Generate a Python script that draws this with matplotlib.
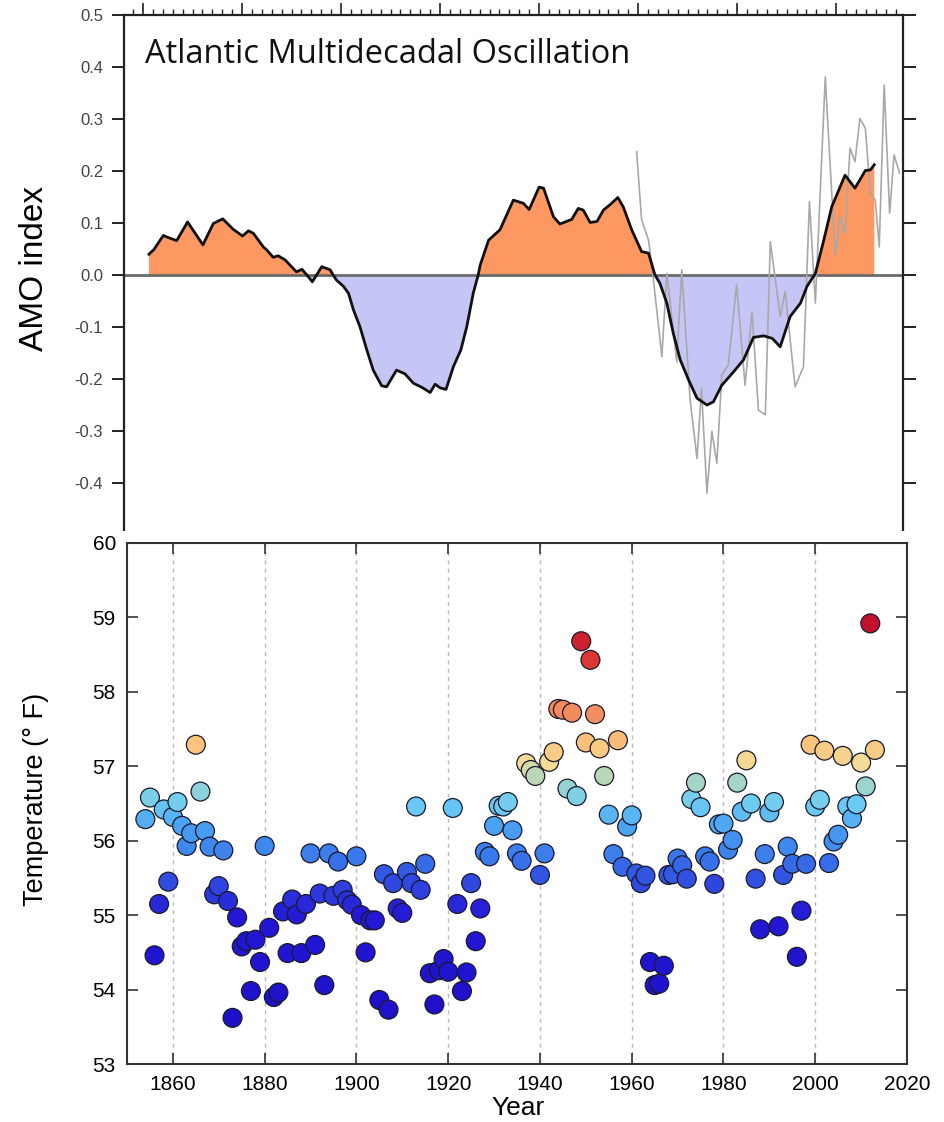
import numpy as np
import matplotlib
matplotlib.use("Agg")
import matplotlib.pyplot as plt
from matplotlib.colors import LinearSegmentedColormap, Normalize
from matplotlib.patches import Rectangle

plt.rcParams['font.family'] = ['Liberation Sans', 'DejaVu Sans']

# ---------------- AMO index (top panel) ----------------
amo_smooth_years = [1861.2, 1862.2, 1864.1, 1865.1, 1866.8, 1869.0, 1872.1, 1874.2, 1876.1, 1878.2,
                    1880.1, 1881.3, 1882.3, 1884.3, 1885.0, 1886.3, 1887.3, 1888.7, 1890.0, 1891.0,
                    1892.1, 1893.1, 1894.2, 1896.1, 1897.8, 1898.4, 1899.1, 1900.5, 1901.5, 1902.5,
                    1903.8, 1905.2, 1906.5, 1908.2, 1909.2, 1911.2, 1912.9, 1914.6, 1916.3, 1918.0,
                    1919.0, 1920.0, 1921.2, 1922.7, 1924.2, 1925.4, 1926.7, 1927.7, 1928.1, 1929.8,
                    1932.1, 1934.8, 1936.8, 1938.0, 1940.0, 1940.9, 1942.9, 1944.2, 1946.6, 1947.9,
                    1948.9, 1950.3, 1951.7, 1953.0, 1954.3, 1955.9, 1957.0, 1958.7, 1960.7, 1962.1,
                    1963.4, 1964.4, 1965.8, 1967.1, 1968.5, 1970.2, 1971.9, 1973.9, 1975.2, 1976.9,
                    1979.3, 1981.3, 1983.3, 1985.4, 1987.1, 1988.7, 1990.7, 1992.8, 1994.1, 1995.8,
                    1997.5, 1999.1, 2001.8, 2003.8, 2005.9, 2006.9, 2007.7]
amo_smooth_values = [0.040, 0.049, 0.076, 0.072, 0.066, 0.102, 0.058, 0.099, 0.108, 0.088,
                     0.075, 0.085, 0.080, 0.054, 0.048, 0.034, 0.037, 0.029, 0.016, 0.006,
                     0.011, 0.000, -0.013, 0.016, 0.010, 0.000, -0.010, -0.022, -0.035, -0.067,
                     -0.099, -0.144, -0.183, -0.213, -0.215, -0.183, -0.190, -0.208, -0.216, -0.226,
                     -0.210, -0.217, -0.220, -0.176, -0.144, -0.099, -0.035, 0.000, 0.019, 0.067,
                     0.087, 0.144, 0.138, 0.126, 0.169, 0.167, 0.112, 0.098, 0.107, 0.128,
                     0.125, 0.101, 0.103, 0.125, 0.135, 0.149, 0.131, 0.087, 0.045, 0.042,
                     0.000, -0.016, -0.054, -0.112, -0.163, -0.202, -0.237, -0.250, -0.244, -0.212,
                     -0.186, -0.163, -0.120, -0.117, -0.122, -0.138, -0.080, -0.054, -0.022, 0.003,
                     0.067, 0.131, 0.192, 0.167, 0.201, 0.202, 0.212]

amo_annual_years = [1959.7, 1960.7, 1962.1, 1963.1, 1964.8, 1965.8, 1967.8, 1968.8, 1970.5, 1971.9,
                    1972.8, 1973.9, 1974.9, 1975.9, 1976.9, 1978.2, 1979.9, 1981.6, 1983.0, 1984.3,
                    1985.7, 1986.7, 1988.7, 1989.7, 1991.7, 1993.4, 1994.6, 1995.8, 1997.8, 1999.8,
                    2000.8, 2001.8, 2002.8, 2003.8, 2004.8, 2005.9, 2006.9, 2007.9, 2008.7, 2009.7,
                    2010.8, 2011.7, 2012.8]
amo_annual_values = [0.237, 0.106, 0.067, -0.010, -0.157, 0.003, -0.167, 0.010, -0.240, -0.353,
                     -0.218, -0.420, -0.301, -0.362, -0.192, -0.173, -0.019, -0.212, -0.071, -0.260,
                     -0.269, 0.064, -0.080, -0.032, -0.215, -0.176, 0.141, -0.054, 0.381, 0.038,
                     0.112, 0.080, 0.244, 0.218, 0.301, 0.282, 0.157, 0.144, 0.054, 0.365,
                     0.119, 0.231, 0.196]

amo_yticks = [0.5, 0.4, 0.3, 0.2, 0.1, 0.0, -0.1, -0.2, -0.3, -0.4, -0.5]

# ---------------- Temperature (bottom panel) ----------------
temp_years = list(range(1854, 2014))
temp_values = [56.29, 56.58, 54.46, 55.15, 56.42, 55.45, 56.32, 56.52, 56.20, 55.93,
               56.10, 57.29, 56.66, 56.13, 55.92, 55.28, 55.39, 55.87, 55.19, 53.62,
               54.97, 54.58, 54.65, 53.98, 54.67, 54.37, 55.93, 54.83, 53.90, 53.96,
               55.05, 54.49, 55.21, 55.01, 54.49, 55.15, 55.83, 54.60, 55.29, 54.06,
               55.83, 55.26, 55.72, 55.34, 55.20, 55.14, 55.79, 55.00, 54.50, 54.93,
               54.93, 53.86, 55.55, 53.73, 55.43, 55.09, 55.03, 55.58, 55.43, 56.46,
               55.34, 55.69, 54.22, 53.80, 54.26, 54.41, 54.24, 56.44, 55.15, 53.98,
               54.23, 55.43, 54.65, 55.09, 55.85, 55.79, 56.20, 56.47, 56.46, 56.52,
               56.14, 55.83, 55.73, 57.04, 56.95, 56.87, 55.54, 55.83, 57.06, 57.19,
               57.77, 57.76, 56.70, 57.72, 56.60, 58.68, 57.32, 58.43, 57.70, 57.24,
               56.87, 56.35, 55.82, 57.35, 55.65, 56.19, 56.34, 55.56, 55.43, 55.53,
               54.37, 54.06, 54.08, 54.32, 55.54, 55.55, 55.76, 55.67, 55.49, 56.56,
               56.78, 56.45, 55.79, 55.72, 55.42, 56.22, 56.23, 55.88, 56.01, 56.78,
               56.39, 57.08, 56.50, 55.49, 54.81, 55.82, 56.38, 56.52, 54.85, 55.54,
               55.92, 55.69, 54.44, 55.06, 55.69, 57.29, 56.46, 56.55, 57.21, 55.70,
               55.99, 56.08, 57.14, 56.46, 56.30, 56.49, 57.05, 56.73, 58.92, 57.22]
temp_yticks = [53, 54, 55, 56, 57, 58, 59, 60]
year_ticks = [1860, 1880, 1900, 1920, 1940, 1960, 1980, 2000, 2020]

W, H = 945, 1122
fig = plt.figure(figsize=(W / 100, H / 100), dpi=100)


def fx(px):
    return px / W


def fy(py):
    return 1 - py / H


# ---- top axes ----
ax1 = fig.add_axes([fx(124), fy(535), fx(903) - fx(124), fy(15) - fy(535)])
ax1.set_zorder(0)
ax1.set_xlim(1856.16, 2013.5)
ax1.set_ylim(-0.5, 0.5)

xs = np.array(amo_smooth_years)
ys = np.array(amo_smooth_values)
ax1.fill_between(xs, 0, ys, where=ys >= 0, interpolate=True, color='#fd9862', lw=0, zorder=1)
ax1.fill_between(xs, 0, ys, where=ys <= 0, interpolate=True, color='#c6c6f6', lw=0, zorder=1)
ax1.axhline(0, color='#6a6a6a', lw=2.0, zorder=2)
ax1.plot(amo_annual_years, amo_annual_values, color='#a8a8a8', lw=1.2, zorder=3)
ax1.plot(xs, ys, color='#111111', lw=2.0, zorder=4)

ax1.spines['bottom'].set_visible(False)
for s in ['left', 'right', 'top']:
    ax1.spines[s].set_color('#222222')
    ax1.spines[s].set_linewidth(1.6)
ax1.xaxis.tick_top()
ax1.set_xticks(list(range(1860, 2014, 20)))
ax1.set_xticks(list(range(1858, 2014, 2)), minor=True)
ax1.tick_params(axis='x', which='major', direction='out', length=9, width=1.2,
                labeltop=False, labelbottom=False, color='#222222')
ax1.tick_params(axis='x', which='minor', direction='out', length=4, width=1.0, color='#222222')
ax1.set_yticks(amo_yticks)
# the -0.5 label is hidden behind the lower panel in the reference
ax1.set_yticklabels([f"{v:.1f}" if v > -0.45 else "" for v in amo_yticks])
ax1.tick_params(axis='y', direction='out', length=9, width=1.4, right=True, labelright=False,
                labelsize=12, labelcolor='#444444', pad=6, color='#222222')
ax1.set_ylabel('AMO index', fontsize=24)
ax1.yaxis.set_label_coords(-0.095, 0.513)
ax1.text(0.027, 0.924, 'Atlantic Multidecadal Oscillation', transform=ax1.transAxes,
         fontsize=23.5, family=['Open Sans', 'DejaVu Sans'], va='center', ha='left', color='#111111')

# white cover between panels (the reference panels are stacked and cut)
fig.patches.append(Rectangle((0, 0), 1, fy(531), transform=fig.transFigure,
                             facecolor='white', edgecolor='none', zorder=1))

# ---- bottom axes ----
ax2 = fig.add_axes([fx(127), fy(1064), fx(907) - fx(127), fy(543) - fy(1064)])
ax2.set_zorder(2)
ax2.set_xlim(1850, 2020)
ax2.set_ylim(53, 60)

cmap = LinearSegmentedColormap.from_list('temp', [
    (0.0, '#1e10c8'), (0.264, '#2418d6'), (0.358, '#3150e0'), (0.415, '#3a7cec'),
    (0.49, '#4aa2f2'), (0.547, '#6cccf4'), (0.604, '#a8d6c4'), (0.651, '#f4dc96'),
    (0.698, '#fbc47c'), (0.774, '#f29060'), (0.906, '#e03a34'), (1.0, '#c0102a')])
norm = Normalize(vmin=53.6, vmax=58.9)

for x in year_ticks[:-1]:
    ax2.axvline(x, color='#bbbbbb', lw=1.0, ls=(0, (3, 3)), zorder=0)
ax2.scatter(temp_years, temp_values, c=temp_values, cmap=cmap, norm=norm, s=185,
            edgecolors='#1a1a2a', linewidths=0.9, zorder=3)

for s in ax2.spines.values():
    s.set_color('#333333')
    s.set_linewidth(1.5)
ax2.set_xticks(year_ticks)
ax2.set_yticks(temp_yticks)
ax2.tick_params(axis='both', direction='in', length=8, width=1.2, top=True, right=True,
                labelsize=15, color='#333333', pad=8)
ax2.set_xlabel('Year', fontsize=19)
ax2.xaxis.label.set_verticalalignment('baseline')
ax2.xaxis.set_label_coords(0.501, (1064 - 1115) / 521)
ax2.set_ylabel('Temperature (° F)', fontsize=19.5)
ax2.yaxis.set_label_coords(-0.100, 0.507)

fig.savefig('out.png', dpi=100)
